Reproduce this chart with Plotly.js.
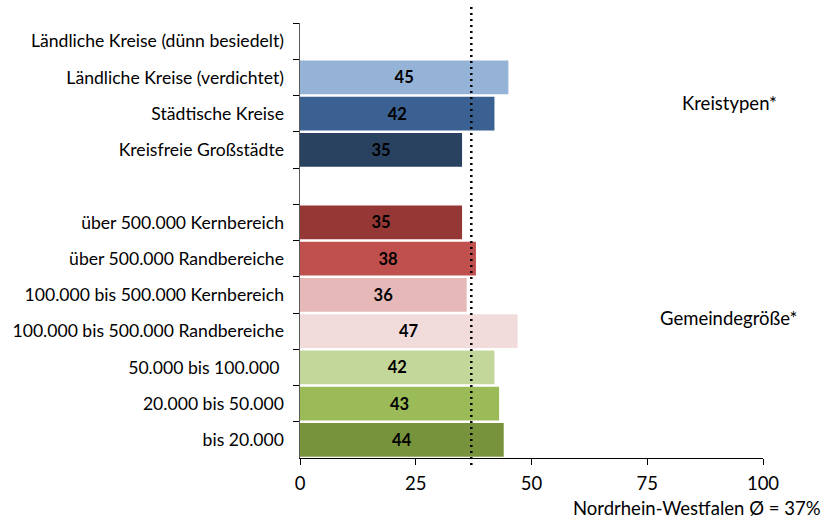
<!DOCTYPE html>
<html>
<head>
<meta charset="utf-8">
<script src="https://cdn.plot.ly/plotly-3.0.1.min.js"></script>
<style>html,body{margin:0;padding:0;background:#fff}#chart{width:826px;height:522px}</style>
</head>
<body>
<div id="chart"></div>
<script>
const categories = [
  "Ländliche Kreise (dünn besiedelt)",
  "Ländliche Kreise (verdichtet)",
  "Städtische Kreise",
  "Kreisfreie Großstädte",
  " ",
  "über 500.000 Kernbereich",
  "über 500.000 Randbereiche",
  "100.000 bis 500.000 Kernbereich",
  "100.000 bis 500.000 Randbereiche",
  "50.000 bis 100.000\u00a0",
  "20.000 bis 50.000",
  "bis 20.000"
];
const values = [null, 45, 42, 35, null, 35, 38, 36, 47, 42, 43, 44];
const barColors = ["#95B3D7", "#95B3D7", "#3A6191", "#29425F", "#ffffff",
  "#953735", "#C0504D", "#E6B9B8", "#F2DCDB", "#C4D79B", "#9BBB59", "#77933C"];
const xTicks = [0, 25, 50, 75, 100];
const averageNRW = 37;
const groupLabels = ["Kreistypen*", "Gemeindegröße*"];
const axisTitle = "Nordrhein-Westfalen Ø = 37%";

const FONT = "Lato, 'Open Sans', sans-serif";
const FS = 18.5;
const nCat = categories.length;
const boundaries = [];
for (let i = 0; i <= nCat; i++) boundaries.push(i - 0.5);

const trace = {
  type: "bar",
  orientation: "h",
  y: categories,
  x: values,
  marker: { color: barColors, line: { width: 0 } },
  text: values.map(v => v === null ? "" : String(v)),
  texttemplate: "%{text}",
  textposition: "inside",
  insidetextanchor: "middle",
  textangle: 0,
  constraintext: "none",
  textfont: { family: FONT, size: 16.5, color: "#000", weight: "bold" },
  hoverinfo: "skip",
  cliponaxis: false
};

const layout = {
  width: 826, height: 522,
  margin: { l: 300, r: 63, t: 23, b: 64 },
  paper_bgcolor: "#fff", plot_bgcolor: "#fff",
  showlegend: false,
  bargap: 0.07,
  font: { family: FONT, size: FS, color: "#000" },
  xaxis: {
    range: [0, 100], tickvals: xTicks, ticktext: xTicks.map(String),
    showgrid: false, zeroline: false,
    showline: true, linecolor: "#000", linewidth: 1,
    ticks: "outside", ticklen: 6, tickcolor: "#000", tickwidth: 1,
    ticklabelstandoff: 3,
    tickfont: { family: FONT, size: FS, color: "#000" },
    fixedrange: true
  },
  yaxis: {
    type: "category", categoryorder: "array", categoryarray: categories,
    range: [nCat - 0.5, -0.5],
    showgrid: false, zeroline: false,
    showline: true, linecolor: "#595959", linewidth: 1.5,
    ticks: "outside", tickson: "boundaries", ticklen: 6, tickcolor: "#000", tickwidth: 1,
    ticklabelstandoff: 11,
    tickfont: { family: FONT, size: 17.6, color: "#000" },
    fixedrange: true
  },
  yaxis2: {
    type: "linear", overlaying: "y", anchor: "x", side: "left",
    range: [nCat - 0.5, -0.5],
    tickvals: boundaries, showticklabels: false,
    ticks: "inside", ticklen: 6, tickcolor: "#000", tickwidth: 1,
    showgrid: false, zeroline: false, showline: false, fixedrange: true
  },
  shapes: [{
    type: "line", xref: "x", yref: "paper",
    x0: averageNRW, x1: averageNRW, y0: -0.016, y1: 1.04,
    line: { color: "#000", width: 2.5, dash: "2px,4px" }
  }],
  annotations: [
    { text: groupLabels[0], xref: "paper", yref: "paper", x: 0.927, y: 0.816,
      showarrow: false, xanchor: "center", yanchor: "middle",
      font: { family: FONT, size: FS, color: "#000" } },
    { text: groupLabels[1], xref: "paper", yref: "paper", x: 0.925, y: 0.322,
      showarrow: false, xanchor: "center", yanchor: "middle",
      font: { family: FONT, size: FS, color: "#000" } },
    { text: axisTitle, xref: "paper", yref: "paper", x: 1.13, y: -0.115,
      showarrow: false, xanchor: "right", yanchor: "middle",
      font: { family: FONT, size: FS, color: "#000" } }
  ]
};

Plotly.newPlot("chart", [trace], layout, { staticPlot: true, displayModeBar: false });
</script>
</body>
</html>
